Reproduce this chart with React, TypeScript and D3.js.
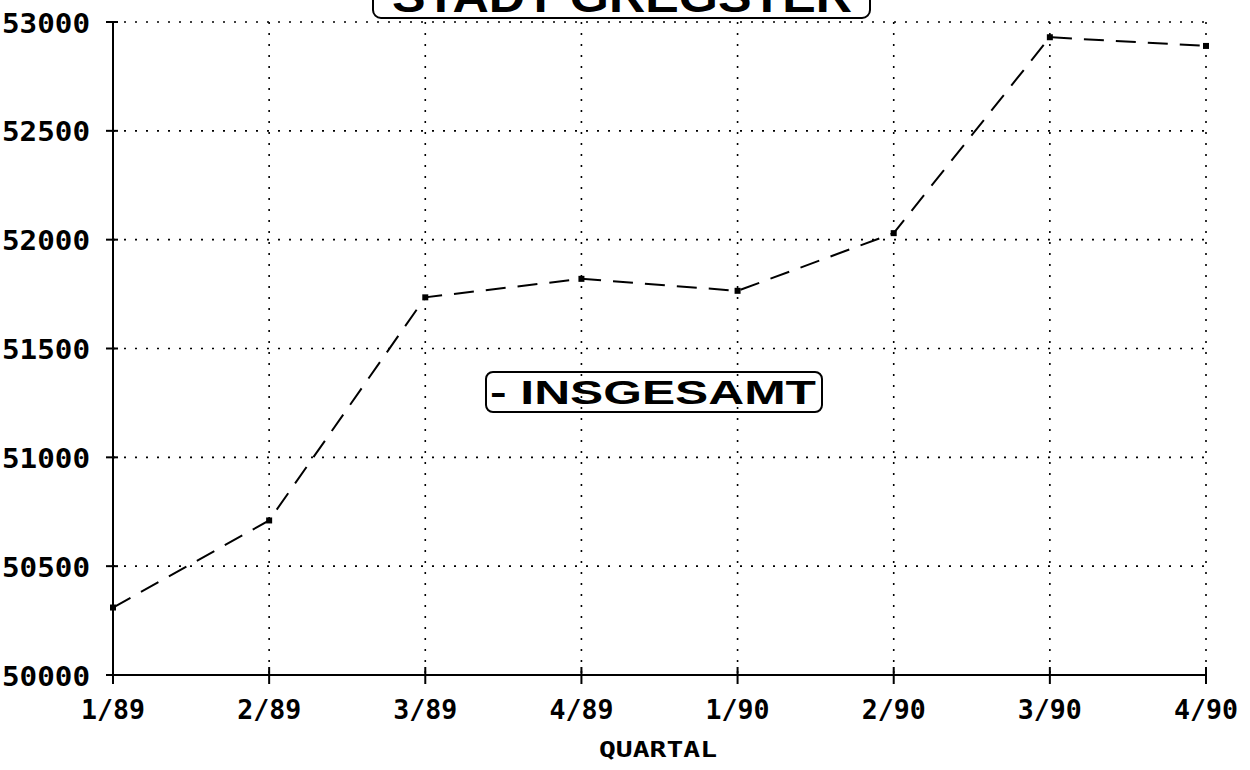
import * as d3 from 'd3';

const W = 1250;
const H = 770;

// quarterly values
const quarters = ['1/89', '2/89', '3/89', '4/89', '1/90', '2/90', '3/90', '4/90'];
const insgesamt = [50310, 50710, 51735, 51820, 51765, 52030, 52930, 52890];
const yTicks = [50000, 50500, 51000, 51500, 52000, 52500, 53000];

const titleText = 'STADT GREGSTER';
const seriesLabel = '- INSGESAMT';
const xTitle = 'QUARTAL';

const x = d3.scalePoint<string>().domain(quarters).range([113, 1206]);
const y = d3.scaleLinear().domain([50000, 53000]).range([675, 22]);

const mono = '"DejaVu Sans Mono", monospace';
const sans = '"Liberation Sans", Arial, sans-serif';

export default function App() {
  const [x0, x1] = x.range();
  const [yb, yt] = y.range();
  const line = d3.line<number>()
    .x((_, i) => x(quarters[i]) as number)
    .y(d => y(d));

  return (
    <div style={{ position: 'absolute', left: 0, top: 0, background: '#fff' }}>
      <svg width={W} height={H} style={{ display: 'block', background: '#fff' }}>
        {/* dotted grid */}
        {yTicks.map(t => (
          <line key={'gy' + t} x1={x0} x2={x1} y1={y(t)} y2={y(t)}
            stroke="#000" strokeWidth={1.6} strokeDasharray="2,9" />
        ))}
        {quarters.map(q => (
          <line key={'gx' + q} x1={x(q)} x2={x(q)} y1={yt} y2={yb}
            stroke="#000" strokeWidth={1.6} strokeDasharray="2,9" />
        ))}

        {/* axes */}
        <line x1={x0} x2={x0} y1={yt} y2={yb} stroke="#000" strokeWidth={2} />
        <line x1={x0} x2={x1} y1={yb} y2={yb} stroke="#000" strokeWidth={2} />
        {yTicks.map(t => (
          <line key={'ty' + t} x1={x0 - 7} x2={x0 + 5} y1={y(t)} y2={y(t)} stroke="#000" strokeWidth={2} />
        ))}
        {quarters.map(q => (
          <line key={'tx' + q} x1={x(q)} x2={x(q)} y1={yb - 8} y2={yb + 9} stroke="#000" strokeWidth={2} />
        ))}

        {/* y labels */}
        {yTicks.map(t => (
          <text key={'ly' + t} x={90} y={y(t) + 1} textAnchor="end" dominantBaseline="central"
            fontFamily={mono} fontWeight="bold" fontSize={27}
            textLength={88} lengthAdjust="spacingAndGlyphs">{t}</text>
        ))}

        {/* x labels */}
        {quarters.map(q => (
          <text key={'lx' + q} x={x(q)} y={719} textAnchor="middle"
            fontFamily={mono} fontWeight="bold" fontSize={27}
            textLength={64} lengthAdjust="spacingAndGlyphs">{q}</text>
        ))}
        <text x={658} y={757} textAnchor="middle" fontFamily={mono} fontWeight="bold" fontSize={21}
          textLength={118} lengthAdjust="spacingAndGlyphs">{xTitle}</text>

        {/* series */}
        <path d={line(insgesamt) ?? ''} fill="none" stroke="#000" strokeWidth={2}
          strokeDasharray="20,12" />
        {insgesamt.map((v, i) => (
          <rect key={'m' + i} x={(x(quarters[i]) as number) - 3} y={y(v) - 3} width={6} height={6} fill="#000" />
        ))}

        {/* series label box */}
        <rect x={486} y={372} width={336} height={40} rx={7} fill="none" stroke="#000" strokeWidth={2} />
        <text x={490} y={404} fontFamily={sans} fontWeight="bold" fontSize={33}
          textLength={326} lengthAdjust="spacingAndGlyphs">{seriesLabel}</text>

        {/* title box, cut at the top edge */}
        <rect x={373} y={-30} width={497} height={48} rx={8} fill="#fff" stroke="#000" strokeWidth={2} />
        <text x={392} y={12} fontFamily={sans} fontWeight="bold" fontSize={44}
          textLength={460} lengthAdjust="spacingAndGlyphs">{titleText}</text>
      </svg>
    </div>
  );
}
